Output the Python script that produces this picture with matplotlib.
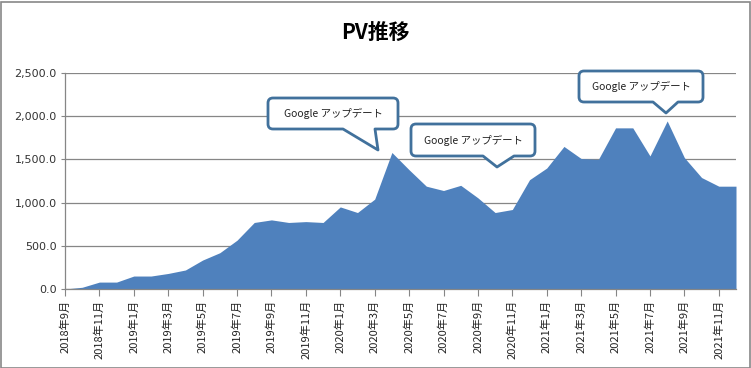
import numpy as np
import matplotlib
matplotlib.use("Agg")
import matplotlib.pyplot as plt
from matplotlib.path import Path
from matplotlib.patches import PathPatch, Rectangle
from matplotlib.transforms import Affine2D

plt.rcParams['font.family'] = ['Noto Sans CJK JP', 'DejaVu Sans']

# monthly PV, 2018-09 .. 2021-12
months = [f"{y}年{m}月" for y in range(2018, 2022) for m in range(1, 13)][8:]
pv = [0, 20, 80, 80, 150, 150, 180, 220, 335, 420,
      565, 770, 800, 770, 780, 770, 950, 885, 1040, 1580,
      1380, 1190, 1140, 1200, 1055, 885, 920, 1265, 1400, 1650,
      1510, 1500, 1865, 1865, 1540, 1945, 1520, 1290, 1190, 1190]

callout_text = "Google アップデート"

W, H = 751, 368
BLUE = "#4F81BD"
GRID = "#868686"


def px_transform(fig):
    # pixel coords, origin top-left
    return Affine2D().scale(1 / W, -1 / H).translate(0, 1) + fig.transFigure


def callout(fig, x0, y0, x1, y1, b0, b1, tip, r=5, text=""):
    tx, ty = tip
    verts = [
        (x0 + r, y0), (x1 - r, y0), (x1, y0), (x1, y0 + r),
        (x1, y1 - r), (x1, y1), (x1 - r, y1),
        (b1, y1), (tx, ty), (b0, y1),
        (x0 + r, y1), (x0, y1), (x0, y1 - r),
        (x0, y0 + r), (x0, y0), (x0 + r, y0),
        (x0 + r, y0),
    ]
    codes = [Path.MOVETO, Path.LINETO, Path.CURVE3, Path.CURVE3,
             Path.LINETO, Path.CURVE3, Path.CURVE3,
             Path.LINETO, Path.LINETO, Path.LINETO,
             Path.LINETO, Path.CURVE3, Path.CURVE3,
             Path.LINETO, Path.CURVE3, Path.CURVE3,
             Path.CLOSEPOLY]
    patch = PathPatch(Path(verts, codes), facecolor="white", edgecolor="#41719C",
                      linewidth=2.0, transform=px_transform(fig), zorder=10,
                      joinstyle="round")
    fig.patches.append(patch)
    fig.text((x0 + x1) / 2 / W, 1 - (y0 + y1) / 2 / H, text, ha="center",
             va="center", fontsize=7.5, color="#222222", zorder=11)


fig = plt.figure(figsize=(W / 100, H / 100), dpi=100)
ax = fig.add_axes([65 / W, 1 - 289 / H, (736 - 65) / W, (289 - 73) / H])

x = np.arange(len(pv))
ax.fill_between(x, pv, 0, color=BLUE, linewidth=0)
ax.set_xlim(0, len(pv) - 1)
ax.set_ylim(0, 2500)
ax.set_yticks(np.arange(0, 2501, 500))
ax.set_yticklabels([f"{v:,.1f}" for v in np.arange(0, 2501, 500)],
                   family="DejaVu Sans", fontsize=8, color="#333333")
ax.yaxis.grid(True, color=GRID, linewidth=0.9)
ax.set_axisbelow(True)
ax.tick_params(axis="y", length=3, color=GRID, pad=3)

ax.set_xticks(x[::2])
ax.set_xticklabels(months[::2], rotation=90, fontsize=8, color="#222222")
ax.tick_params(axis="x", length=5, color=GRID, pad=3)

for s in ["top", "right"]:
    ax.spines[s].set_visible(False)
for s in ["left", "bottom"]:
    ax.spines[s].set_color(GRID)
    ax.spines[s].set_linewidth(0.9)

fig.text(375 / W, 1 - 32 / H, "PV推移", ha="center", va="center",
         fontsize=15, fontweight="bold", color="black")

callout(fig, 268, 98, 398, 129, 343, 375, (378, 150), text=callout_text)
callout(fig, 411, 124, 535, 156, 483, 514, (497, 167), text=callout_text)
callout(fig, 579, 71, 703, 102, 653, 678, (666, 113), text=callout_text)

fig.patches.append(Rectangle((0.5 / W, 0.5 / H), 1 - 1.5 / W, 1 - 2 / H,
                             transform=fig.transFigure, fill=False,
                             edgecolor="#888888", linewidth=1.2))

fig.savefig("out.png", dpi=100)
